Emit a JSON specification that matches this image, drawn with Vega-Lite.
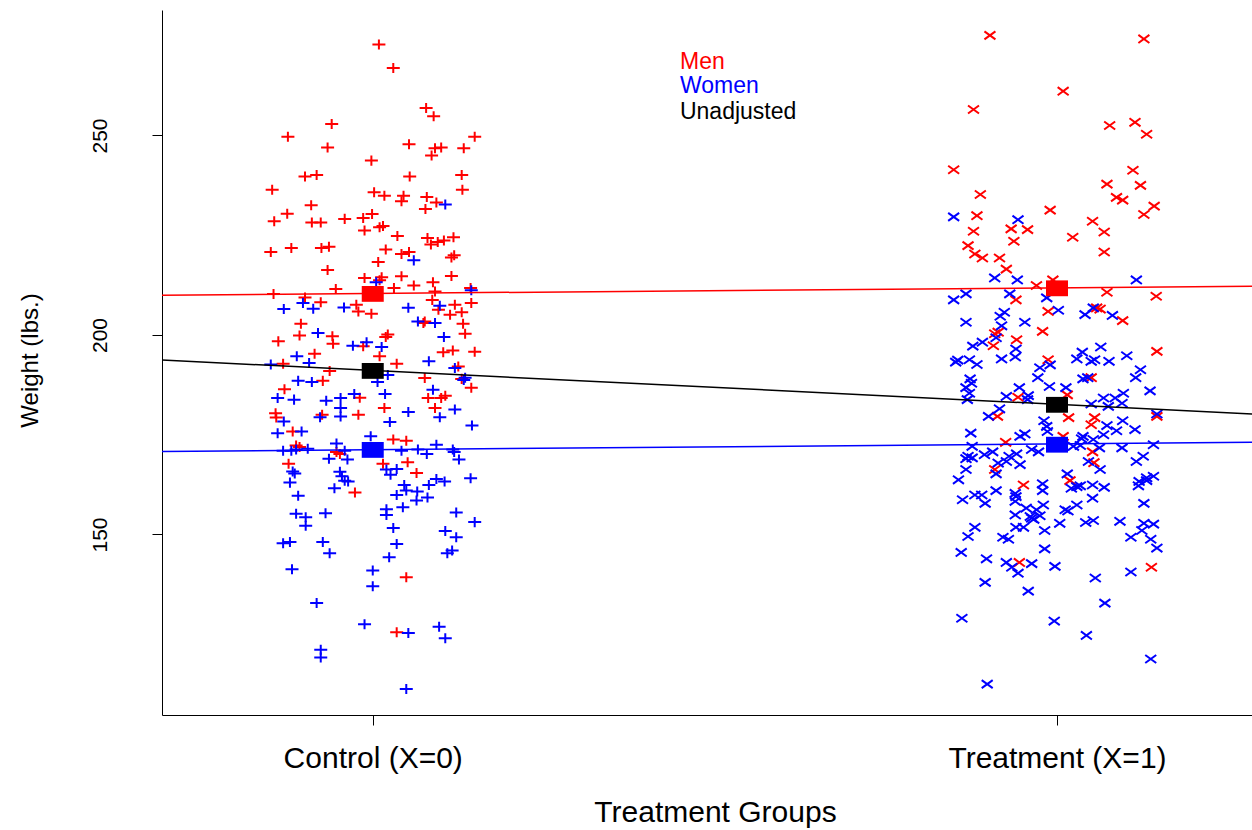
{
  "$schema": "https://vega.github.io/schema/vega-lite/v6.json",
  "width": 1090,
  "height": 705,
  "autosize": {"type": "none"},
  "padding": {"left": 162, "top": 10, "right": 0, "bottom": 115},
  "background": "white",
  "config": {
    "view": {"stroke": null},
    "font": "Liberation Sans",
    "axis": {"grid": false, "domainColor": "black", "tickColor": "black", "labelColor": "black", "titleColor": "black", "labelFont": "Liberation Sans", "titleFont": "Liberation Sans", "titleFontWeight": "normal", "tickSize": 10, "domainWidth": 1, "tickWidth": 1, "labelLimit": 0}
  },
  "datasets": {
    "control": [
      {"sex":"Men","x":0.009,"weight":272.8},{"sex":"Men","x":0.030,"weight":266.9},{"sex":"Men","x":0.078,"weight":256.9},{"sex":"Men","x":0.089,"weight":254.8},{"sex":"Men","x":-0.060,"weight":252.9},{"sex":"Men","x":-0.124,"weight":249.7},{"sex":"Men","x":0.149,"weight":249.7},{"sex":"Men","x":-0.066,"weight":247},{"sex":"Men","x":0.053,"weight":247.8},{"sex":"Men","x":0.091,"weight":246.8},{"sex":"Men","x":0.100,"weight":247},{"sex":"Men","x":0.086,"weight":245},{"sex":"Men","x":0.133,"weight":246.8},{"sex":"Men","x":-0.002,"weight":243.7},{"sex":"Men","x":-0.099,"weight":239.7},{"sex":"Men","x":-0.082,"weight":240.1},{"sex":"Men","x":0.054,"weight":239.7},{"sex":"Men","x":0.130,"weight":240.1},{"sex":"Men","x":-0.147,"weight":236.4},{"sex":"Men","x":0.131,"weight":236.4},{"sex":"Men","x":0.002,"weight":235.8},{"sex":"Men","x":0.017,"weight":234.9},{"sex":"Men","x":0.045,"weight":234.9},{"sex":"Men","x":0.042,"weight":233.5},{"sex":"Men","x":0.079,"weight":234.6},{"sex":"Men","x":0.093,"weight":233.2},{"sex":"Men","x":0.077,"weight":231.6},{"sex":"Men","x":-0.090,"weight":232.5},{"sex":"Men","x":-0.125,"weight":230.4},{"sex":"Men","x":-0.144,"weight":228.5},{"sex":"Men","x":-0.089,"weight":228.2},{"sex":"Men","x":-0.076,"weight":228.2},{"sex":"Men","x":-0.041,"weight":229.1},{"sex":"Men","x":-0.014,"weight":229.3},{"sex":"Men","x":-0.001,"weight":230.3},{"sex":"Men","x":-0.012,"weight":226.2},{"sex":"Men","x":0.010,"weight":227},{"sex":"Men","x":0.015,"weight":227.3},{"sex":"Men","x":0.036,"weight":224.8},{"sex":"Men","x":0.080,"weight":224.3},{"sex":"Men","x":0.085,"weight":222.7},{"sex":"Men","x":0.095,"weight":223.3},{"sex":"Men","x":0.104,"weight":223.7},{"sex":"Men","x":0.118,"weight":224.5},{"sex":"Men","x":-0.149,"weight":220.8},{"sex":"Men","x":-0.119,"weight":221.8},{"sex":"Men","x":-0.075,"weight":221.8},{"sex":"Men","x":-0.064,"weight":222.1},{"sex":"Men","x":0.019,"weight":221.4},{"sex":"Men","x":0.042,"weight":220.3},{"sex":"Men","x":0.053,"weight":220.8},{"sex":"Men","x":0.008,"weight":218.3},{"sex":"Men","x":0.115,"weight":219.4},{"sex":"Men","x":0.119,"weight":220},{"sex":"Men","x":-0.066,"weight":216.3},{"sex":"Men","x":-0.012,"weight":214.3},{"sex":"Men","x":0.013,"weight":214.5},{"sex":"Men","x":0.010,"weight":213.7},{"sex":"Men","x":0.042,"weight":214.7},{"sex":"Men","x":0.115,"weight":214.8},{"sex":"Men","x":0.088,"weight":213.2},{"sex":"Men","x":0.060,"weight":212.4},{"sex":"Men","x":0.031,"weight":211.8},{"sex":"Men","x":-0.054,"weight":211.5},{"sex":"Men","x":-0.145,"weight":210.3},{"sex":"Men","x":-0.099,"weight":209.4},{"sex":"Men","x":0.091,"weight":210.9},{"sex":"Men","x":0.087,"weight":208.8},{"sex":"Men","x":0.143,"weight":211.8},{"sex":"Men","x":-0.076,"weight":208.2},{"sex":"Men","x":-0.024,"weight":207.6},{"sex":"Men","x":-0.021,"weight":205.9},{"sex":"Men","x":-0.002,"weight":205.3},{"sex":"Men","x":0.096,"weight":206.3},{"sex":"Men","x":0.120,"weight":207.6},{"sex":"Men","x":0.144,"weight":208},{"sex":"Men","x":0.113,"weight":205.1},{"sex":"Men","x":0.130,"weight":205.7},{"sex":"Men","x":0.076,"weight":203.4},{"sex":"Men","x":0.074,"weight":203},{"sex":"Men","x":-0.105,"weight":202.8},{"sex":"Men","x":0.132,"weight":202.8},{"sex":"Men","x":-0.107,"weight":199.9},{"sex":"Men","x":-0.059,"weight":199.7},{"sex":"Men","x":-0.058,"weight":197.8},{"sex":"Men","x":0.022,"weight":200.1},{"sex":"Men","x":0.019,"weight":199.5},{"sex":"Men","x":0.135,"weight":200.3},{"sex":"Men","x":-0.138,"weight":198.4},{"sex":"Men","x":-0.014,"weight":197.2},{"sex":"Men","x":-0.085,"weight":195.3},{"sex":"Men","x":0.010,"weight":194.7},{"sex":"Men","x":0.103,"weight":195.7},{"sex":"Men","x":0.117,"weight":196.1},{"sex":"Men","x":0.149,"weight":195.8},{"sex":"Men","x":-0.131,"weight":192.8},{"sex":"Men","x":0.035,"weight":192.8},{"sex":"Men","x":0.125,"weight":192.1},{"sex":"Men","x":-0.063,"weight":191},{"sex":"Men","x":0.076,"weight":189.2},{"sex":"Men","x":0.130,"weight":189},{"sex":"Men","x":0.144,"weight":186.8},{"sex":"Men","x":-0.073,"weight":188.5},{"sex":"Men","x":-0.129,"weight":186.4},{"sex":"Men","x":-0.019,"weight":184.3},{"sex":"Men","x":0.081,"weight":184.2},{"sex":"Men","x":0.100,"weight":184.2},{"sex":"Men","x":0.106,"weight":184.8},{"sex":"Men","x":0.017,"weight":181.7},{"sex":"Men","x":0.091,"weight":181.7},{"sex":"Men","x":-0.142,"weight":180.4},{"sex":"Men","x":-0.141,"weight":179.3},{"sex":"Men","x":-0.074,"weight":180},{"sex":"Men","x":-0.021,"weight":180},{"sex":"Men","x":-0.117,"weight":175.8},{"sex":"Men","x":0.030,"weight":173.8},{"sex":"Men","x":0.049,"weight":173.5},{"sex":"Men","x":-0.112,"weight":172.3},{"sex":"Men","x":-0.107,"weight":171.9},{"sex":"Men","x":-0.053,"weight":170.7},{"sex":"Men","x":-0.048,"weight":170.2},{"sex":"Men","x":-0.123,"weight":167.7},{"sex":"Men","x":0.015,"weight":167.7},{"sex":"Men","x":0.051,"weight":168.1},{"sex":"Men","x":0.064,"weight":165.4},{"sex":"Men","x":-0.026,"weight":160.5},{"sex":"Men","x":0.049,"weight":139.3},{"sex":"Men","x":0.035,"weight":125.5},
      {"sex":"Women","x":0.106,"weight":232.7},{"sex":"Women","x":0.060,"weight":218.7},{"sex":"Women","x":0.005,"weight":213.2},{"sex":"Women","x":0.144,"weight":211.2},{"sex":"Women","x":-0.102,"weight":208},{"sex":"Women","x":-0.130,"weight":206.5},{"sex":"Women","x":-0.087,"weight":206.6},{"sex":"Women","x":-0.042,"weight":206.9},{"sex":"Women","x":0.052,"weight":206.8},{"sex":"Women","x":0.098,"weight":207.3},{"sex":"Women","x":0.066,"weight":203.4},{"sex":"Women","x":0.091,"weight":203},{"sex":"Women","x":-0.080,"weight":200.5},{"sex":"Women","x":0.104,"weight":199.5},{"sex":"Women","x":-0.029,"weight":197.3},{"sex":"Women","x":-0.009,"weight":198.2},{"sex":"Women","x":0.013,"weight":197},{"sex":"Women","x":-0.111,"weight":194.7},{"sex":"Women","x":-0.093,"weight":193},{"sex":"Women","x":-0.149,"weight":192.6},{"sex":"Women","x":0.082,"weight":193.4},{"sex":"Women","x":0.120,"weight":191.7},{"sex":"Women","x":0.007,"weight":188.2},{"sex":"Women","x":0.022,"weight":190},{"sex":"Women","x":0.135,"weight":189.3},{"sex":"Women","x":0.133,"weight":188.7},{"sex":"Women","x":0.088,"weight":186.3},{"sex":"Women","x":-0.109,"weight":188.5},{"sex":"Women","x":-0.089,"weight":188.2},{"sex":"Women","x":-0.139,"weight":184.2},{"sex":"Women","x":-0.115,"weight":183.8},{"sex":"Women","x":-0.068,"weight":183.5},{"sex":"Women","x":-0.047,"weight":184.2},{"sex":"Women","x":-0.047,"weight":181.7},{"sex":"Women","x":-0.047,"weight":179.6},{"sex":"Women","x":-0.027,"weight":185.2},{"sex":"Women","x":0.018,"weight":185.2},{"sex":"Women","x":0.052,"weight":180.7},{"sex":"Women","x":0.120,"weight":181.3},{"sex":"Women","x":0.098,"weight":179.4},{"sex":"Women","x":-0.130,"weight":178.3},{"sex":"Women","x":-0.077,"weight":179.4},{"sex":"Women","x":0.025,"weight":178.2},{"sex":"Women","x":0.145,"weight":177.3},{"sex":"Women","x":-0.139,"weight":175.4},{"sex":"Women","x":-0.104,"weight":175.8},{"sex":"Women","x":-0.003,"weight":174.6},{"sex":"Women","x":-0.053,"weight":172.8},{"sex":"Women","x":0.093,"weight":172.5},{"sex":"Women","x":-0.131,"weight":171},{"sex":"Women","x":-0.119,"weight":171},{"sex":"Women","x":-0.112,"weight":171.3},{"sex":"Women","x":-0.095,"weight":171.5},{"sex":"Women","x":-0.041,"weight":171},{"sex":"Women","x":0.042,"weight":171},{"sex":"Women","x":0.066,"weight":171.3},{"sex":"Women","x":0.079,"weight":170.2},{"sex":"Women","x":0.117,"weight":171.3},{"sex":"Women","x":0.119,"weight":170.7},{"sex":"Women","x":-0.064,"weight":169},{"sex":"Women","x":-0.037,"weight":168.8},{"sex":"Women","x":0.126,"weight":168.8},{"sex":"Women","x":-0.117,"weight":165.8},{"sex":"Women","x":-0.114,"weight":165.3},{"sex":"Women","x":0.020,"weight":166.3},{"sex":"Women","x":0.035,"weight":166.4},{"sex":"Women","x":0.026,"weight":165},{"sex":"Women","x":-0.048,"weight":165.7},{"sex":"Women","x":-0.045,"weight":164.6},{"sex":"Women","x":0.093,"weight":163.9},{"sex":"Women","x":0.143,"weight":164.1},{"sex":"Women","x":-0.121,"weight":163},{"sex":"Women","x":-0.041,"weight":163.5},{"sex":"Women","x":-0.036,"weight":163.3},{"sex":"Women","x":-0.056,"weight":161.6},{"sex":"Women","x":0.046,"weight":162.4},{"sex":"Women","x":0.049,"weight":161},{"sex":"Women","x":0.035,"weight":159.9},{"sex":"Women","x":0.065,"weight":160.8},{"sex":"Women","x":0.064,"weight":158.5},{"sex":"Women","x":0.080,"weight":159.3},{"sex":"Women","x":0.082,"weight":162.4},{"sex":"Women","x":0.105,"weight":163.3},{"sex":"Women","x":-0.109,"weight":159.7},{"sex":"Women","x":-0.112,"weight":155.2},{"sex":"Women","x":-0.098,"weight":154.3},{"sex":"Women","x":-0.098,"weight":152.2},{"sex":"Women","x":-0.069,"weight":155.3},{"sex":"Women","x":0.020,"weight":156.3},{"sex":"Women","x":0.020,"weight":154.9},{"sex":"Women","x":0.044,"weight":156.8},{"sex":"Women","x":0.122,"weight":155.5},{"sex":"Women","x":0.149,"weight":153.1},{"sex":"Women","x":0.030,"weight":151.6},{"sex":"Women","x":0.106,"weight":150.9},{"sex":"Women","x":0.122,"weight":149.3},{"sex":"Women","x":-0.131,"weight":147.8},{"sex":"Women","x":-0.121,"weight":148.1},{"sex":"Women","x":-0.073,"weight":148.1},{"sex":"Women","x":-0.063,"weight":145.3},{"sex":"Women","x":0.035,"weight":147.6},{"sex":"Women","x":0.024,"weight":144.3},{"sex":"Women","x":0.109,"weight":145.3},{"sex":"Women","x":0.116,"weight":146},{"sex":"Women","x":-0.118,"weight":141.3},{"sex":"Women","x":0.000,"weight":141},{"sex":"Women","x":0.000,"weight":137},{"sex":"Women","x":-0.082,"weight":132.8},{"sex":"Women","x":-0.012,"weight":127.5},{"sex":"Women","x":0.052,"weight":125.3},{"sex":"Women","x":0.097,"weight":126.9},{"sex":"Women","x":0.106,"weight":124},{"sex":"Women","x":-0.076,"weight":121.1},{"sex":"Women","x":-0.076,"weight":119.2},{"sex":"Women","x":0.049,"weight":111.3}
    ],
    "treatment": [
      {"sex":"Men","x":0.902,"weight":275.1},{"sex":"Men","x":1.127,"weight":274.2},{"sex":"Men","x":1.009,"weight":261.1},{"sex":"Men","x":0.878,"weight":256.5},{"sex":"Men","x":1.077,"weight":252.5},{"sex":"Men","x":1.114,"weight":253.3},{"sex":"Men","x":1.131,"weight":250.3},{"sex":"Men","x":0.849,"weight":241.4},{"sex":"Men","x":1.111,"weight":241.3},{"sex":"Men","x":1.073,"weight":237.8},{"sex":"Men","x":1.122,"weight":237.5},{"sex":"Men","x":0.888,"weight":235.2},{"sex":"Men","x":1.087,"weight":234.5},{"sex":"Men","x":1.096,"weight":233.8},{"sex":"Men","x":1.142,"weight":232.3},{"sex":"Men","x":0.990,"weight":231.3},{"sex":"Men","x":0.883,"weight":229.9},{"sex":"Men","x":1.127,"weight":230.2},{"sex":"Men","x":1.052,"weight":228.5},{"sex":"Men","x":0.878,"weight":226},{"sex":"Men","x":0.933,"weight":226.6},{"sex":"Men","x":0.957,"weight":226.4},{"sex":"Men","x":1.069,"weight":225.8},{"sex":"Men","x":0.937,"weight":223.5},{"sex":"Men","x":1.023,"weight":224.5},{"sex":"Men","x":0.870,"weight":222.4},{"sex":"Men","x":0.880,"weight":220.3},{"sex":"Men","x":1.069,"weight":220.8},{"sex":"Men","x":0.891,"weight":219.3},{"sex":"Men","x":0.916,"weight":219.3},{"sex":"Men","x":0.926,"weight":216.5},{"sex":"Men","x":0.994,"weight":213.8},{"sex":"Men","x":0.970,"weight":212.4},{"sex":"Men","x":0.940,"weight":208.8},{"sex":"Men","x":1.073,"weight":210.7},{"sex":"Men","x":1.145,"weight":209.7},{"sex":"Men","x":0.987,"weight":205.9},{"sex":"Men","x":1.058,"weight":206.8},{"sex":"Men","x":1.063,"weight":206.5},{"sex":"Men","x":1.096,"weight":203.6},{"sex":"Men","x":0.979,"weight":200.9},{"sex":"Men","x":0.909,"weight":200.3},{"sex":"Men","x":0.914,"weight":200.7},{"sex":"Men","x":0.941,"weight":198.8},{"sex":"Men","x":0.907,"weight":197.3},{"sex":"Men","x":1.146,"weight":195.9},{"sex":"Men","x":0.987,"weight":193.8},{"sex":"Men","x":1.050,"weight":189.3},{"sex":"Men","x":1.015,"weight":185},{"sex":"Men","x":0.943,"weight":184.4},{"sex":"Men","x":0.913,"weight":179.6},{"sex":"Men","x":1.017,"weight":179.3},{"sex":"Men","x":1.055,"weight":179.3},{"sex":"Men","x":1.050,"weight":177.5},{"sex":"Men","x":1.146,"weight":179.6},{"sex":"Men","x":1.009,"weight":174.6},{"sex":"Men","x":0.925,"weight":173.1},{"sex":"Men","x":1.052,"weight":170.7},{"sex":"Men","x":1.054,"weight":168},{"sex":"Men","x":0.909,"weight":166.3},{"sex":"Men","x":0.951,"weight":162.4},{"sex":"Men","x":1.019,"weight":163.5},{"sex":"Men","x":0.945,"weight":143},{"sex":"Men","x":1.138,"weight":141.8},
      {"sex":"Women","x":0.849,"weight":229.6},{"sex":"Women","x":0.943,"weight":228.9},{"sex":"Women","x":0.909,"weight":214.3},{"sex":"Women","x":0.942,"weight":213.8},{"sex":"Women","x":1.116,"weight":213.8},{"sex":"Women","x":0.849,"weight":208.8},{"sex":"Women","x":0.867,"weight":210.3},{"sex":"Women","x":0.931,"weight":210.3},{"sex":"Women","x":0.985,"weight":209.3},{"sex":"Women","x":1.002,"weight":206.2},{"sex":"Women","x":1.041,"weight":205.1},{"sex":"Women","x":1.053,"weight":206.8},{"sex":"Women","x":1.081,"weight":204.9},{"sex":"Women","x":0.917,"weight":204.7},{"sex":"Women","x":0.923,"weight":205.7},{"sex":"Women","x":0.919,"weight":202.3},{"sex":"Women","x":0.867,"weight":203.2},{"sex":"Women","x":0.953,"weight":203.2},{"sex":"Women","x":0.911,"weight":199.3},{"sex":"Women","x":0.891,"weight":198.2},{"sex":"Women","x":0.877,"weight":197.2},{"sex":"Women","x":0.940,"weight":196.5},{"sex":"Women","x":0.939,"weight":194.5},{"sex":"Women","x":1.064,"weight":197},{"sex":"Women","x":1.037,"weight":195.7},{"sex":"Women","x":1.029,"weight":194},{"sex":"Women","x":1.050,"weight":193.4},{"sex":"Women","x":1.055,"weight":193.8},{"sex":"Women","x":1.076,"weight":193.4},{"sex":"Women","x":1.102,"weight":194.8},{"sex":"Women","x":0.855,"weight":193.7},{"sex":"Women","x":0.852,"weight":193.2},{"sex":"Women","x":0.872,"weight":193.8},{"sex":"Women","x":0.883,"weight":192.6},{"sex":"Women","x":0.919,"weight":194},{"sex":"Women","x":0.975,"weight":191.8},{"sex":"Women","x":0.990,"weight":192.5},{"sex":"Women","x":1.122,"weight":191.3},{"sex":"Women","x":1.115,"weight":189.3},{"sex":"Women","x":0.972,"weight":189.3},{"sex":"Women","x":1.038,"weight":189},{"sex":"Women","x":1.045,"weight":189.3},{"sex":"Women","x":0.873,"weight":189},{"sex":"Women","x":0.875,"weight":187.9},{"sex":"Women","x":0.867,"weight":186.8},{"sex":"Women","x":0.872,"weight":185.4},{"sex":"Women","x":0.869,"weight":183.8},{"sex":"Women","x":0.945,"weight":186.8},{"sex":"Women","x":0.958,"weight":184.8},{"sex":"Women","x":0.957,"weight":183.8},{"sex":"Women","x":0.989,"weight":187.1},{"sex":"Women","x":1.013,"weight":186.8},{"sex":"Women","x":0.926,"weight":184.6},{"sex":"Women","x":1.136,"weight":186},{"sex":"Women","x":1.068,"weight":184.2},{"sex":"Women","x":1.085,"weight":184.2},{"sex":"Women","x":1.097,"weight":185.4},{"sex":"Women","x":1.095,"weight":182.9},{"sex":"Women","x":1.050,"weight":182.7},{"sex":"Women","x":1.075,"weight":182.1},{"sex":"Women","x":0.916,"weight":181.5},{"sex":"Women","x":0.900,"weight":179.6},{"sex":"Women","x":1.096,"weight":178.5},{"sex":"Women","x":1.146,"weight":180.2},{"sex":"Women","x":0.981,"weight":178.5},{"sex":"Women","x":0.985,"weight":177.1},{"sex":"Women","x":0.986,"weight":175.8},{"sex":"Women","x":1.073,"weight":177.3},{"sex":"Women","x":1.087,"weight":176},{"sex":"Women","x":1.114,"weight":176.3},{"sex":"Women","x":1.068,"weight":175},{"sex":"Women","x":0.874,"weight":175.4},{"sex":"Women","x":0.946,"weight":174.6},{"sex":"Women","x":0.953,"weight":175.2},{"sex":"Women","x":1.038,"weight":174.6},{"sex":"Women","x":1.036,"weight":174},{"sex":"Women","x":1.053,"weight":173.8},{"sex":"Women","x":0.876,"weight":172.1},{"sex":"Women","x":1.024,"weight":172.1},{"sex":"Women","x":1.034,"weight":172.3},{"sex":"Women","x":1.062,"weight":171.7},{"sex":"Women","x":1.095,"weight":171.7},{"sex":"Women","x":1.141,"weight":172.5},{"sex":"Women","x":0.963,"weight":171.3},{"sex":"Women","x":0.973,"weight":170.7},{"sex":"Women","x":0.870,"weight":169.6},{"sex":"Women","x":0.876,"weight":169.2},{"sex":"Women","x":0.867,"weight":169},{"sex":"Women","x":0.894,"weight":170},{"sex":"Women","x":0.906,"weight":170.7},{"sex":"Women","x":0.930,"weight":169.6},{"sex":"Women","x":0.941,"weight":170.2},{"sex":"Women","x":0.926,"weight":168.3},{"sex":"Women","x":0.946,"weight":167.5},{"sex":"Women","x":0.914,"weight":167.9},{"sex":"Women","x":1.126,"weight":169.6},{"sex":"Women","x":1.116,"weight":168.3},{"sex":"Women","x":1.046,"weight":168.3},{"sex":"Women","x":1.063,"weight":166.3},{"sex":"Women","x":0.911,"weight":165.2},{"sex":"Women","x":0.867,"weight":166.3},{"sex":"Women","x":1.015,"weight":165.2},{"sex":"Women","x":1.141,"weight":164.6},{"sex":"Women","x":1.131,"weight":164.2},{"sex":"Women","x":0.856,"weight":163.7},{"sex":"Women","x":0.979,"weight":162.7},{"sex":"Women","x":0.979,"weight":161},{"sex":"Women","x":1.021,"weight":161.6},{"sex":"Women","x":1.029,"weight":162},{"sex":"Women","x":1.034,"weight":162.2},{"sex":"Women","x":1.052,"weight":162.4},{"sex":"Women","x":1.069,"weight":161.8},{"sex":"Women","x":1.120,"weight":163.3},{"sex":"Women","x":1.131,"weight":163.5},{"sex":"Women","x":1.119,"weight":162.2},{"sex":"Women","x":0.880,"weight":159.9},{"sex":"Women","x":0.890,"weight":159.9},{"sex":"Women","x":0.895,"weight":157.8},{"sex":"Women","x":0.911,"weight":161},{"sex":"Women","x":0.862,"weight":158.7},{"sex":"Women","x":0.939,"weight":160.3},{"sex":"Women","x":0.939,"weight":158.3},{"sex":"Women","x":0.940,"weight":159.5},{"sex":"Women","x":0.955,"weight":156.6},{"sex":"Women","x":0.980,"weight":157.4},{"sex":"Women","x":0.970,"weight":156.2},{"sex":"Women","x":1.052,"weight":159.1},{"sex":"Women","x":1.029,"weight":157.4},{"sex":"Women","x":1.012,"weight":156.2},{"sex":"Women","x":1.016,"weight":155.9},{"sex":"Women","x":1.127,"weight":157.8},{"sex":"Women","x":0.939,"weight":154.9},{"sex":"Women","x":0.961,"weight":154.5},{"sex":"Women","x":0.966,"weight":153.8},{"sex":"Women","x":0.975,"weight":154.7},{"sex":"Women","x":0.963,"weight":154.1},{"sex":"Women","x":0.940,"weight":151.8},{"sex":"Women","x":0.951,"weight":151.8},{"sex":"Women","x":0.982,"weight":151},{"sex":"Women","x":1.004,"weight":152.8},{"sex":"Women","x":1.042,"weight":153},{"sex":"Women","x":1.053,"weight":153.5},{"sex":"Women","x":1.092,"weight":153.3},{"sex":"Women","x":1.127,"weight":152.8},{"sex":"Women","x":1.141,"weight":152.6},{"sex":"Women","x":1.124,"weight":151},{"sex":"Women","x":0.880,"weight":151.8},{"sex":"Women","x":0.870,"weight":149.5},{"sex":"Women","x":0.921,"weight":149.3},{"sex":"Women","x":0.929,"weight":148.8},{"sex":"Women","x":1.108,"weight":149.3},{"sex":"Women","x":1.137,"weight":148.8},{"sex":"Women","x":1.146,"weight":146.6},{"sex":"Women","x":0.982,"weight":146.4},{"sex":"Women","x":0.860,"weight":145.5},{"sex":"Women","x":0.897,"weight":143.9},{"sex":"Women","x":0.926,"weight":143},{"sex":"Women","x":0.934,"weight":141.8},{"sex":"Women","x":0.943,"weight":140.3},{"sex":"Women","x":0.963,"weight":142.7},{"sex":"Women","x":0.997,"weight":142},{"sex":"Women","x":1.108,"weight":140.6},{"sex":"Women","x":1.056,"weight":139.1},{"sex":"Women","x":0.895,"weight":138},{"sex":"Women","x":0.958,"weight":135.8},{"sex":"Women","x":1.070,"weight":132.8},{"sex":"Women","x":0.861,"weight":129},{"sex":"Women","x":0.996,"weight":128.3},{"sex":"Women","x":1.043,"weight":124.7},{"sex":"Women","x":1.137,"weight":118.8},{"sex":"Women","x":0.898,"weight":112.5}
    ],
    "fits": [
      {"series":"Men","x":-0.31,"weight":209.97},{"series":"Men","x":1.31,"weight":212.23},
      {"series":"Women","x":-0.31,"weight":170.8},{"series":"Women","x":1.31,"weight":173.15},
      {"series":"Unadjusted","x":-0.31,"weight":193.74},{"series":"Unadjusted","x":1.31,"weight":179.97}
    ],
    "means": [
      {"series":"Men","x":0,"weight":210.3},{"series":"Men","x":1,"weight":211.7},
      {"series":"Women","x":0,"weight":171.2},{"series":"Women","x":1,"weight":172.5},
      {"series":"Unadjusted","x":0,"weight":191},{"series":"Unadjusted","x":1,"weight":182.5}
    ],
    "legend": [
      {"series":"Men","x":0.449,"weight":268.4},
      {"series":"Women","x":0.449,"weight":262.3},
      {"series":"Unadjusted","x":0.449,"weight":256.0}
    ]
  },
  "layer": [
    {
      "data": {"name": "control"},
      "mark": {"type": "point", "shape": "M-1,0L1,0M0,-0.77L0,0.77", "filled": false, "strokeWidth": 2, "size": 169, "opacity": 1},
      "encoding": {
        "x": {"field": "x", "type": "quantitative", "scale": {"domain": [-0.308, 1.285], "nice": false, "zero": false},
          "axis": {"values": [0, 1], "labelExpr": "datum.value == 0 ? 'Control (X=0)' : 'Treatment (X=1)'", "labelFlush": false, "labelOverlap": false, "labelBound": false, "labelLimit": 0, "labelFontSize": 30, "labelPadding": 33, "labelBaseline": "middle", "title": "Treatment Groups", "titleFontSize": 30, "titleX": 553, "titleY": 97, "titleBaseline": "middle", "titleAnchor": null}},
        "y": {"field": "weight", "type": "quantitative", "scale": {"domain": [104.76, 281.45], "nice": false, "zero": false},
          "axis": {"values": [150, 200, 250], "labelAngle": -90, "labelAlign": "center", "labelBaseline": "middle", "labelFontSize": 21, "labelPadding": 52, "title": "Weight (lbs.)", "titleFontSize": 24, "titleAngle": -90, "titleX": -132, "titleY": 350, "titleAlign": "center", "titleBaseline": "middle"}},
        "color": {"field": "sex", "type": "nominal", "scale": {"domain": ["Men", "Women", "Unadjusted"], "range": ["#FF0000", "#0000FF", "#000000"]}, "legend": null}
      }
    },
    {
      "data": {"name": "treatment"},
      "mark": {"type": "point", "shape": "M-1,-0.73L1,0.73M-1,0.73L1,-0.73", "filled": false, "strokeWidth": 2, "size": 121, "opacity": 1},
      "encoding": {
        "x": {"field": "x", "type": "quantitative"},
        "y": {"field": "weight", "type": "quantitative"},
        "color": {"field": "sex", "type": "nominal", "legend": null}
      }
    },
    {
      "data": {"name": "fits"},
      "mark": {"type": "line", "strokeWidth": 1.5, "clip": true},
      "encoding": {
        "x": {"field": "x", "type": "quantitative"},
        "y": {"field": "weight", "type": "quantitative"},
        "color": {"field": "series", "type": "nominal", "legend": null}
      }
    },
    {
      "data": {"name": "means"},
      "mark": {"type": "point", "shape": "M-1,-0.72L1,-0.72L1,0.72L-1,0.72Z", "filled": true, "size": 484, "opacity": 1},
      "encoding": {
        "x": {"field": "x", "type": "quantitative"},
        "y": {"field": "weight", "type": "quantitative"},
        "color": {"field": "series", "type": "nominal", "legend": null}
      }
    },
    {
      "data": {"name": "legend"},
      "mark": {"type": "text", "align": "left", "baseline": "middle", "fontSize": 23, "font": "Liberation Sans"},
      "encoding": {
        "x": {"field": "x", "type": "quantitative"},
        "y": {"field": "weight", "type": "quantitative"},
        "text": {"field": "series"},
        "color": {"field": "series", "type": "nominal", "legend": null}
      }
    }
  ]
}
